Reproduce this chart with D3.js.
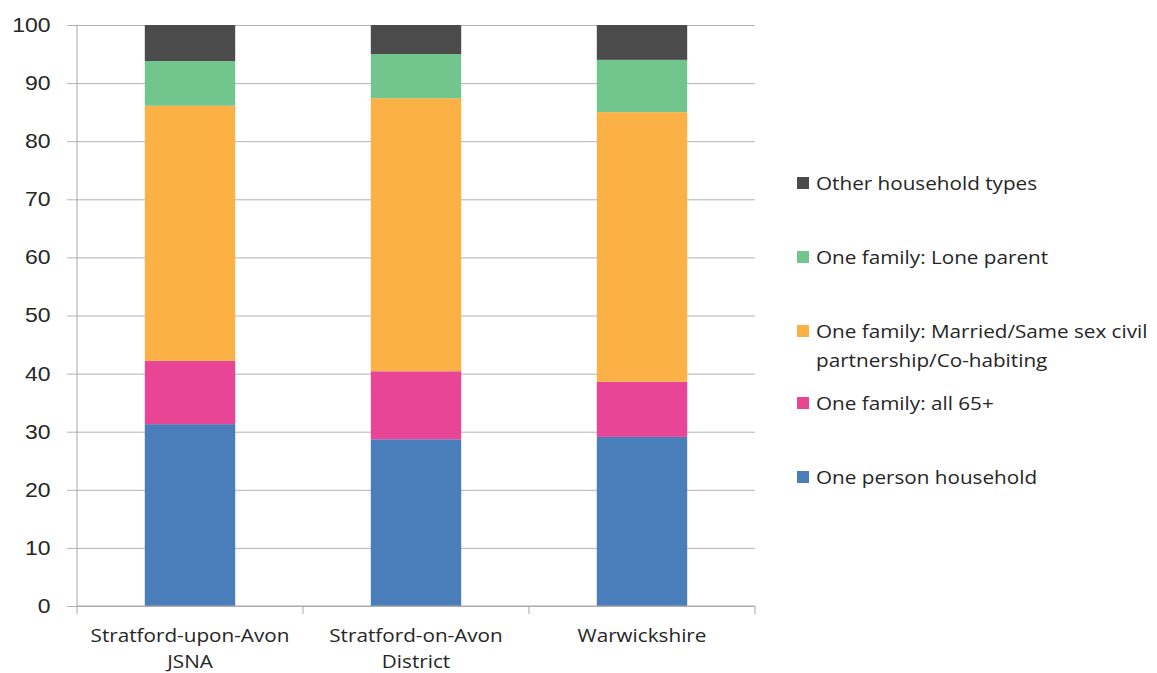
<!DOCTYPE html>
<html>
<head>
<meta charset="utf-8">
<script src="https://cdn.jsdelivr.net/npm/d3@7"></script>
<style>
  body { margin: 0; background: #fff; }
  svg { display: block; font-family: "Open Sans", sans-serif; }
  .axis text { fill: #262626; }
</style>
</head>
<body>
<svg id="chart" width="1157" height="673"></svg>
<script>
// categories + tick label lines
const categories = ["Stratford-upon-Avon JSNA", "Stratford-on-Avon District", "Warwickshire"];
const categoryLines = [["Stratford-upon-Avon", "JSNA"], ["Stratford-on-Avon", "District"], ["Warwickshire"]];

// series, bottom to top
const seriesNames = [
  "One person household",
  "One family: all 65+",
  "One family: Married/Same sex civil partnership/Co-habiting",
  "One family: Lone parent",
  "Other household types"
];
const onePerson = [31.3, 28.7, 29.1];
const all65 = [10.9, 11.7, 9.5];
const married = [43.9, 47.0, 46.4];
const loneParent = [7.7, 7.6, 9.0];
const otherTypes = [6.2, 5.0, 6.0];
const yTicks = [0, 10, 20, 30, 40, 50, 60, 70, 80, 90, 100];

const colors = ["#4a7ebb", "#e84597", "#fbb145", "#71c58d", "#4b4b4b"];
const legendLines = [
  ["One person household"],
  ["One family: all 65+"],
  ["One family: Married/Same sex civil", "partnership/Co-habiting"],
  ["One family: Lone parent"],
  ["Other household types"]
];

const allSeries = [onePerson, all65, married, loneParent, otherTypes];
const rows = categories.map((c, i) => {
  const r = { cat: c };
  seriesNames.forEach((s, j) => r[s] = allSeries[j][i]);
  return r;
});

let margin = { top: 25, right: 402, bottom: 67, left: 77 };
let width = 1157, height = 673;
let stretch = 1.15; // text in the original is a little wide
let svg = d3.select("#chart");

let x = d3.scaleBand()
  .domain(categories)
  .range([margin.left, width - margin.right])
  .paddingInner(0.6)
  .paddingOuter(0.3);

let y = d3.scaleLinear()
  .domain([0, 100])
  .range([height - margin.bottom, margin.top]);

// gridlines + y axis
let yAxis = svg.append("g")
  .attr("class", "y axis")
  .attr("transform", `translate(${margin.left},0)`)
  .call(d3.axisLeft(y).tickValues(yTicks).tickSize(-(width - margin.right - margin.left)).tickPadding(23))
yAxis.select(".domain").remove();
yAxis.selectAll(".tick line").style("stroke", "#b3b3b3").attr("x1", -10);
yAxis.selectAll(".tick text")
  .style("font-size", "20px")
  .attr("transform", `scale(${stretch},1)`);

let stacked = d3.stack().keys(seriesNames)(rows);

svg.append("g")
  .selectAll("g")
  .data(stacked)
  .join("g")
  .style("fill", (d, i) => colors[i])
  .selectAll("rect")
  .data(d => d)
  .join("rect")
  .attr("x", d => x(d.data.cat))
  .attr("width", x.bandwidth())
  .attr("y", d => y(d[1]))
  .attr("height", d => y(d[0]) - y(d[1]));

// y axis line
svg.append("line")
  .attr("x1", margin.left).attr("x2", margin.left)
  .attr("y1", y(100)).attr("y2", y(0))
  .style("stroke", "#a6a6a6");

// x axis
let xLeft = margin.left, xRight = width - margin.right;
svg.append("line")
  .attr("x1", xLeft).attr("x2", xRight)
  .attr("y1", y(0)).attr("y2", y(0))
  .style("stroke", "#a6a6a6");
let tickXs = d3.range(categories.length + 1).map(i => xLeft + i * (xRight - xLeft) / categories.length);
svg.append("g").selectAll("line")
  .data(tickXs)
  .join("line")
  .attr("x1", d => d).attr("x2", d => d)
  .attr("y1", y(0)).attr("y2", y(0) + 8)
  .style("stroke", "#a6a6a6");

let catLabels = svg.append("g").attr("class", "axis")
  .selectAll("g")
  .data(categories)
  .join("g")
  .attr("transform", d => `translate(${x(d) + x.bandwidth() / 2},642) scale(${stretch},1)`)
  .append("text")
  .attr("text-anchor", "middle")
  .style("font-size", "18px")
  .style("fill", "#262626");
catLabels.each(function (d, i) {
  d3.select(this).selectAll("tspan")
    .data(categoryLines[i])
    .join("tspan")
    .attr("x", 0)
    .attr("dy", (t, k) => k === 0 ? 0 : 26)
    .text(t => t);
});

// legend, top entry first
let legendY = [183, 257, 331, 403, 477];
let legend = svg.append("g")
  .selectAll("g")
  .data(seriesNames.map((s, i) => i).reverse())
  .join("g")
  .attr("transform", (d, k) => `translate(797,${legendY[k]})`);
legend.append("rect")
  .attr("x", 0).attr("y", -6)
  .attr("width", 12).attr("height", 12)
  .style("fill", d => colors[d]);
legend.append("g")
  .attr("transform", `translate(19,7) scale(${stretch},1)`)
  .append("text")
  .style("font-size", "18px")
  .style("fill", "#262626")
  .each(function (d) {
    d3.select(this).selectAll("tspan")
      .data(legendLines[d])
      .join("tspan")
      .attr("x", 0)
      .attr("dy", (t, k) => k === 0 ? 0 : 29)
      .text(t => t);
  });
</script>
</body>
</html>
